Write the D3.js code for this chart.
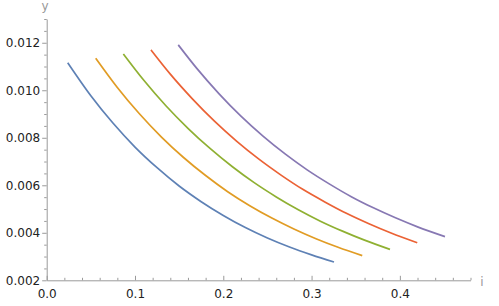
<!DOCTYPE html>
<html>
<head>
<meta charset="utf-8">
<script src="https://cdn.jsdelivr.net/npm/d3@7"></script>
<style>
  body { margin: 0; background: #fff; }
  svg { display: block; font-family: "DejaVu Sans", sans-serif; }
</style>
</head>
<body>
<div class="canvas"></div>
<script>
// data (i, y), smoothed by eye
const blue = [[0.0238, 0.01116], [0.05, 0.00977], [0.075, 0.00862], [0.1, 0.00761], [0.125, 0.00674],
  [0.15, 0.00597], [0.175, 0.00531], [0.2, 0.00473], [0.225, 0.00422], [0.25, 0.00378],
  [0.275, 0.0034], [0.3, 0.00307], [0.3254, 0.00277]];
const orange = [[0.0555, 0.01135], [0.08, 0.01012], [0.105, 0.00901], [0.13, 0.00803], [0.155, 0.00717],
  [0.18, 0.00641], [0.205, 0.00573], [0.23, 0.00514], [0.255, 0.00462], [0.28, 0.00416],
  [0.305, 0.00375], [0.33, 0.00339], [0.3574, 0.00304]];
const green = [[0.0868, 0.01153], [0.11, 0.01042], [0.135, 0.00935], [0.16, 0.0084], [0.185, 0.00755],
  [0.21, 0.00679], [0.235, 0.00611], [0.26, 0.00551], [0.285, 0.00497], [0.31, 0.00449],
  [0.335, 0.00407], [0.36, 0.00369], [0.3888, 0.0033]];
const red = [[0.1181, 0.0117], [0.14, 0.01068], [0.165, 0.00964], [0.19, 0.0087], [0.215, 0.00786],
  [0.24, 0.00711], [0.265, 0.00644], [0.29, 0.00583], [0.315, 0.0053], [0.34, 0.00481],
  [0.365, 0.00438], [0.39, 0.00399], [0.4197, 0.00358]];
const purple = [[0.149, 0.01191], [0.17, 0.01092], [0.195, 0.00986], [0.22, 0.00891], [0.245, 0.00807],
  [0.27, 0.00732], [0.295, 0.00665], [0.32, 0.00606], [0.345, 0.00552], [0.37, 0.00505],
  [0.395, 0.00463], [0.42, 0.00425], [0.4511, 0.00384]];

const series = [blue, orange, green, red, purple];
const colors = ["#5e81b5", "#e19c24", "#8fb032", "#eb6235", "#8778b3"];

const xTicks = [0.0, 0.1, 0.2, 0.3, 0.4];
const yTicks = [0.002, 0.004, 0.006, 0.008, 0.010, 0.012];

const w = 499;
const h = 306;

const svg = d3.select(".canvas").append("svg").attr("width", w).attr("height", h);

// scales
const x = d3.scaleLinear().domain([0, 0.48]).range([46.7, 470.5]);
const y = d3.scaleLinear().domain([0.002, 0.013]).range([280.3, 19]);

const axisColor = "#9a9a9a";

// minor ticks
const xMinor = d3.range(0, 0.481, 0.02).filter(v => Math.abs(v * 10 - Math.round(v * 10)) > 1e-6);
const yMinor = d3.range(0.002, 0.01301, 0.0005).filter(v => Math.abs(v * 500 - Math.round(v * 500)) > 1e-6);

svg.append("g")
  .attr("transform", `translate(0, ${y(0.002)})`)
  .call(d3.axisBottom(x).tickValues(xMinor).tickSize(-2.5).tickFormat(""))
  .call(g => g.select(".domain").remove())
  .call(g => g.selectAll("line").attr("stroke", axisColor));

svg.append("g")
  .attr("transform", `translate(${x(0)}, 0)`)
  .call(d3.axisLeft(y).tickValues(yMinor).tickSize(2.5).tickFormat(""))
  .call(g => g.select(".domain").remove())
  .call(g => g.selectAll("line").attr("stroke", axisColor));

// x-axis
const xAxis = svg.append("g")
  .attr("transform", `translate(0, ${y(0.002)})`)
  .call(d3.axisBottom(x).tickValues(xTicks).tickSize(-4.5).tickSizeOuter(0).tickPadding(9).tickFormat(d3.format(".1f")));
xAxis.select(".domain").attr("stroke", axisColor);
xAxis.selectAll("line").attr("stroke", axisColor);
xAxis.selectAll("text").attr("fill", "#222").attr("font-size", 12).attr("font-family", "DejaVu Sans");

// y-axis
const yAxis = svg.append("g")
  .attr("transform", `translate(${x(0)}, 0)`)
  .call(d3.axisLeft(y).tickValues(yTicks).tickSize(4.5).tickSizeOuter(0).tickPadding(2).tickFormat(d3.format(".3f")));
yAxis.select(".domain").attr("stroke", axisColor);
yAxis.selectAll("line").attr("stroke", axisColor);
yAxis.selectAll("text").attr("fill", "#222").attr("font-size", 12).attr("font-family", "DejaVu Sans");

// axis labels
svg.append("text").attr("x", 45).attr("y", 10).attr("text-anchor", "middle")
  .attr("fill", "#999").attr("font-size", 12).text("y");
svg.append("text").attr("x", 482).attr("y", 286).attr("text-anchor", "middle")
  .attr("fill", "#999").attr("font-size", 12).text("i");

// curves
const line = d3.line().x(d => x(d[0])).y(d => y(d[1])).curve(d3.curveMonotoneX);

svg.selectAll("path.curve")
  .data(series)
  .enter()
  .append("path")
  .attr("class", "curve")
  .attr("d", line)
  .attr("fill", "none")
  .attr("stroke", (d, i) => colors[i])
  .attr("stroke-width", 1.7);
</script>
</body>
</html>
